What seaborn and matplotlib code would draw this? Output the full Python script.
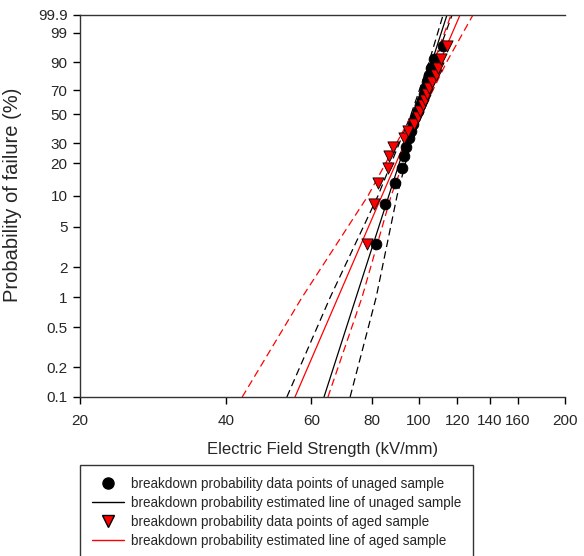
import numpy as np
import pandas as pd
import matplotlib
matplotlib.use("Agg")
import matplotlib.pyplot as plt
from matplotlib.lines import Line2D
from matplotlib.ticker import FixedLocator, FixedFormatter, NullLocator
import seaborn as sns

# --- DATA ---
# breakdown strengths, kV/mm, 20 samples each
unaged_kv = [81.5, 85.1, 89.3, 92.3, 93.1, 94.0, 95.4, 96.3, 97.2, 98.1,
             99.5, 100.5, 101.5, 102.4, 102.9, 103.9, 104.9, 105.9, 107.4, 112.1]
aged_kv = [78.1, 80.8, 82.3, 86.3, 86.7, 88.4, 93.1, 94.9, 97.7, 99.5,
           100.5, 101.9, 102.9, 103.9, 104.9, 106.4, 108.4, 109.5, 111.0, 114.2]
# median-rank failure probabilities (%)
rank_pct = [3.43, 8.33, 13.24, 18.14, 23.04, 27.94, 32.84, 37.75, 42.65, 47.55,
            52.45, 57.35, 62.25, 67.16, 72.06, 76.96, 81.86, 86.76, 91.67, 96.57]

# estimated lines: field strength at 0.1 % and 99.9 %
line_pct = [0.1, 99.9]
unaged_fit = [63.7, 114.2]
aged_fit = [55.5, 121.5]

# confidence bounds: field strength at these probability levels
bound_pct = [0.1, 1, 10, 50, 90, 99.9]
unaged_lo = [53.4, 65.6, 82.3, 96.3, 104.8, 112.1]
unaged_hi = [72.1, 81.6, 90.1, 99.6, 107.8, 117.0]
aged_lo = [43.2, 57.4, 78.5, 96.8, 107.2, 116.4]
aged_hi = [64.9, 76.3, 87.6, 101.0, 113.9, 129.2]

x_ticks = [20, 40, 60, 80, 100, 120, 140, 160, 200]
y_ticks = [0.1, 0.2, 0.5, 1, 2, 5, 10, 20, 30, 50, 70, 90, 99, 99.9]

# --- PLOT ---
sns.set_style("ticks")
plt.rcParams["font.family"] = ["Liberation Sans", "DejaVu Sans"]

fig = plt.figure(figsize=(5.84, 5.56), dpi=100)
ax = fig.add_axes([80 / 584, 1 - 397 / 556, 485 / 584, 382 / 556])

dash = (0, (6, 3.5))
for xs, c in [(unaged_lo, "black"), (unaged_hi, "black"),
              (aged_lo, "red"), (aged_hi, "red")]:
    sns.lineplot(x=xs, y=bound_pct, color=c, lw=0.9, linestyle=dash,
                 estimator=None, sort=False, ax=ax)

sns.lineplot(x=unaged_fit, y=line_pct, color="black", lw=0.9,
             estimator=None, sort=False, ax=ax)
sns.lineplot(x=aged_fit, y=line_pct, color="red", lw=0.9,
             estimator=None, sort=False, ax=ax)

sns.scatterplot(x=unaged_kv, y=rank_pct, marker="o", color="black",
                edgecolor="black", s=60, linewidth=0.6, zorder=3, ax=ax)
sns.scatterplot(x=aged_kv, y=rank_pct, marker="v", color="red",
                edgecolor="black", s=65, linewidth=0.6, zorder=4, ax=ax)

# Weibull probability scale on y, log on x
def fwd(p):
    p = np.clip(np.asarray(p, dtype=float), 1e-6, 100 - 1e-6)
    return np.log(-np.log(1 - p / 100))

def inv(y):
    return 100 * (1 - np.exp(-np.exp(y)))

ax.set_yscale("function", functions=(fwd, inv))
ax.set_xscale("log")
ax.set_xlim(20, 200)
ax.set_ylim(0.1, 99.9)

ax.xaxis.set_major_locator(FixedLocator(x_ticks))
ax.xaxis.set_major_formatter(FixedFormatter([str(t) for t in x_ticks]))
ax.xaxis.set_minor_locator(NullLocator())
ax.yaxis.set_major_locator(FixedLocator(y_ticks))
ax.yaxis.set_major_formatter(FixedFormatter([str(t) for t in y_ticks]))
ax.yaxis.set_minor_locator(NullLocator())

ax.tick_params(direction="out", length=5, width=1, color="black",
               labelsize=11, pad=4)
ax.tick_params(axis="x", pad=7)
for side in ["left", "bottom", "top"]:
    ax.spines[side].set_color("#333333")
    ax.spines[side].set_linewidth(1)
ax.spines["right"].set_visible(False)

ax.set_xlabel("Electric Field Strength (kV/mm)", fontsize=12, labelpad=10)
ax.set_ylabel("Probability of failure (%)", fontsize=14.5)
ax.yaxis.set_label_coords(-0.119, 0.53)

handles = [
    Line2D([], [], marker="o", color="black", ls="none", markersize=8),
    Line2D([], [], color="black", lw=1),
    Line2D([], [], marker="v", markerfacecolor="red", markeredgecolor="black",
           ls="none", markersize=8),
    Line2D([], [], color="red", lw=1),
]
labels = [
    "breakdown probability data points of unaged sample",
    "breakdown probability estimated line of unaged sample",
    "breakdown probability data points of aged sample",
    "breakdown probability estimated line of aged sample",
]
leg = fig.legend(handles, labels, loc="upper left",
                 bbox_to_anchor=(80 / 584, 1 - 465 / 556),
                 fontsize=9.75, frameon=True, fancybox=False,
                 borderpad=0.85, labelspacing=0.38, handlelength=2.4,
                 handletextpad=0.5, borderaxespad=0)
leg.get_frame().set_edgecolor("black")
leg.get_frame().set_linewidth(1)

fig.savefig("out.png", dpi=100)
